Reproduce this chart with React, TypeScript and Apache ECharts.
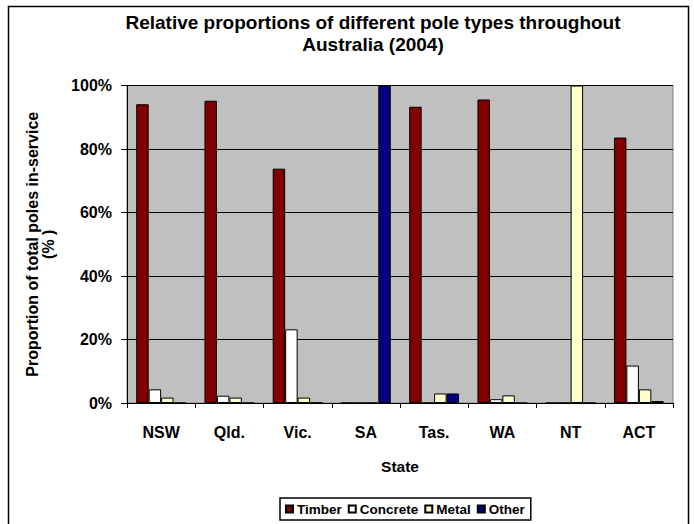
import React, { useEffect, useRef } from "react";
import * as echarts from "echarts";

const states = ["NSW", "Qld.", "Vic.", "SA", "Tas.", "WA", "NT", "ACT"];
const timber = [94.1, 95.2, 73.8, 0, 93.3, 95.6, 0, 83.6];
const concrete = [4.3, 2.3, 23.2, 0, 0, 1.2, 0, 11.8];
const metal = [1.7, 1.7, 1.7, 0, 3.0, 2.4, 100, 4.3];
const other = [0, 0, 0.1, 100, 3.0, 0, 0, 0.6];
const yTicks = [0, 20, 40, 60, 80, 100];

const FONT = "'Liberation Sans', Arial, sans-serif";

export default function App() {
  const ref = useRef<HTMLDivElement>(null);
  useEffect(() => {
    document.body.style.margin = "0";
    const chart = echarts.init(ref.current!, undefined, { renderer: "svg" });
    const mk = (name: string, data: number[], color: string) => ({
      name,
      type: "bar",
      data,
      barGap: "0%",
      barCategoryGap: "27%",
      itemStyle: { color, borderColor: "#000", borderWidth: 1 },
    });
    chart.setOption({
      animation: false,
      textStyle: { fontFamily: FONT },
      title: {
        text: "Relative proportions of different pole types throughout\nAustralia (2004)",
        left: 368,
        top: 6,
        textAlign: "center",
        textStyle: { fontFamily: FONT, fontSize: 19, fontWeight: "bold", color: "#000", lineHeight: 22 },
      },
      graphic: [
        {
          type: "rect",
          shape: { x: 8.5, y: 6.5, width: 680, height: 540 },
          style: { fill: "none", stroke: "#000", lineWidth: 1.5 },
          silent: true,
        },
      ],
      legend: {
        left: 280,
        top: 498,
        itemWidth: 7,
        itemHeight: 7,
        itemGap: 6,
        icon: "rect",
        padding: [4, 6, 4, 5],
        borderColor: "#000",
        borderWidth: 1.5,
        backgroundColor: "#fff",
        textStyle: { fontFamily: FONT, fontSize: 13.5, fontWeight: "bold", color: "#000", padding: [1, 0, 0, -1] },
        data: ["Timber", "Concrete", "Metal", "Other"],
      },
      grid: {
        left: 127,
        right: 21,
        top: 85.5,
        bottom: 121,
        show: true,
        backgroundColor: "#c0c0c0",
        borderColor: "#808080",
        borderWidth: 1,
      },
      xAxis: {
        type: "category",
        data: states,
        name: "State",
        nameLocation: "middle",
        nameGap: 55,
        nameTextStyle: { fontFamily: FONT, fontSize: 15.5, fontWeight: "bold", color: "#000" },
        axisLine: { lineStyle: { color: "#000", width: 1 } },
        axisTick: { show: true, length: 5, lineStyle: { color: "#000" } },
        axisLabel: { margin: 21, fontFamily: FONT, fontSize: 16, fontWeight: "bold", color: "#000" },
      },
      yAxis: {
        type: "value",
        min: 0,
        max: 100,
        interval: 20,
        name: "Proportion of total poles in-service\n(% )",
        nameLocation: "middle",
        nameGap: 71,
        nameTextStyle: { fontFamily: FONT, fontSize: 16, fontWeight: "bold", color: "#000", lineHeight: 16 },
        axisLine: { show: true, lineStyle: { color: "#000", width: 1 } },
        axisTick: { show: true, length: 6, lineStyle: { color: "#000" } },
        axisLabel: {
          margin: 15,
          fontFamily: FONT,
          fontSize: 16,
          fontWeight: "bold",
          color: "#000",
          formatter: (v: number) => (yTicks.includes(v) ? v + "%" : ""),
        },
        splitLine: { show: true, lineStyle: { color: "#000", width: 1 } },
      },
      series: [
        mk("Timber", timber, "#800000"),
        mk("Concrete", concrete, "#ffffff"),
        mk("Metal", metal, "#ffffcc"),
        mk("Other", other, "#000080"),
      ],
    });
    return () => chart.dispose();
  }, []);
  return <div ref={ref} style={{ position: "absolute", left: 0, top: 0, width: 694, height: 524 }} />;
}
